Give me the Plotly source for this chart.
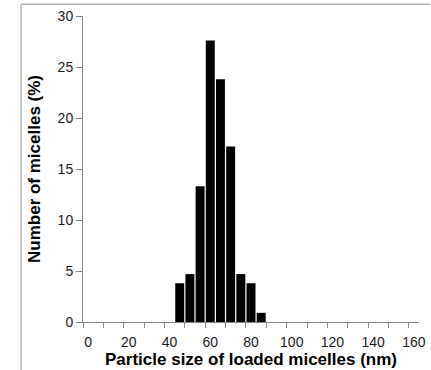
import plotly.graph_objects as go

# Data (particle size bins in nm, % of micelles)
sizes = [45, 50, 55, 60, 65, 70, 75, 80, 85]
percent = [3.8, 4.7, 13.3, 27.6, 23.8, 17.2, 4.7, 3.8, 0.9]

x_labels = [0, 20, 40, 60, 80, 100, 120, 140, 160]
x_tick_marks = [-2.5 + 10 * i for i in range(17)]
y_ticks = [0, 5, 10, 15, 20, 25, 30]

W, H = 431, 370
L, R, T, B = 83, 11.5, 15.7, 48.3

axis_gray = "#868686"
text_col = "#1a1a1a"

fig = go.Figure()
fig.add_trace(go.Bar(x=sizes, y=percent, marker=dict(color="black", line=dict(width=0)), width=4.4))

fig.update_layout(
    width=W, height=H,
    margin=dict(l=L, r=R, t=T, b=B, pad=0, autoexpand=False),
    paper_bgcolor="white", plot_bgcolor="white",
    showlegend=False,
    font=dict(family="Liberation Sans, Arial, sans-serif", color=text_col, size=14),
)

fig.update_xaxes(
    range=[-2.5, 162.5],
    automargin=False,
    tickvals=x_labels, ticktext=[str(v) for v in x_labels],
    ticks="", ticklen=0,
    ticklabelstandoff=7,
    minor=dict(tickvals=x_tick_marks, ticks="outside", ticklen=5, tickcolor=axis_gray, tickwidth=1),
    showline=True, linecolor=axis_gray, linewidth=1,
    showgrid=False, zeroline=False,
    tickfont=dict(size=14, color=text_col),
    title=dict(text="<b>Particle size of loaded micelles (nm)</b>", font=dict(size=17, color="black"), standoff=3),
)
fig.update_yaxes(
    range=[0, 30],
    automargin=False,
    tickvals=y_ticks,
    ticks="outside", ticklen=6, tickcolor=axis_gray, tickwidth=1,
    showline=True, linecolor=axis_gray, linewidth=1,
    showgrid=False, zeroline=False,
    tickfont=dict(size=14, color=text_col),
    title=dict(text="<b>Number of micelles (%)</b>", font=dict(size=17, color="black"), standoff=12),
)

# image frame lines (top and left)
def px_x(p):
    return (p - L) / (W - L - R)

def px_y(p):
    return 1 - (p - T) / (H - T - B)

fig.add_shape(type="line", xref="paper", yref="paper", x0=px_x(21), x1=px_x(W), y0=px_y(4), y1=px_y(4),
              line=dict(color="#b4b4b4", width=1.5))
fig.add_shape(type="line", xref="paper", yref="paper", x0=px_x(21), x1=px_x(21), y0=px_y(4), y1=px_y(H),
              line=dict(color="#b4b4b4", width=1.5))

fig.write_html("out.html", config={"displayModeBar": False},
               post_script="document.body.style.margin='0';document.body.style.overflow='hidden';")
